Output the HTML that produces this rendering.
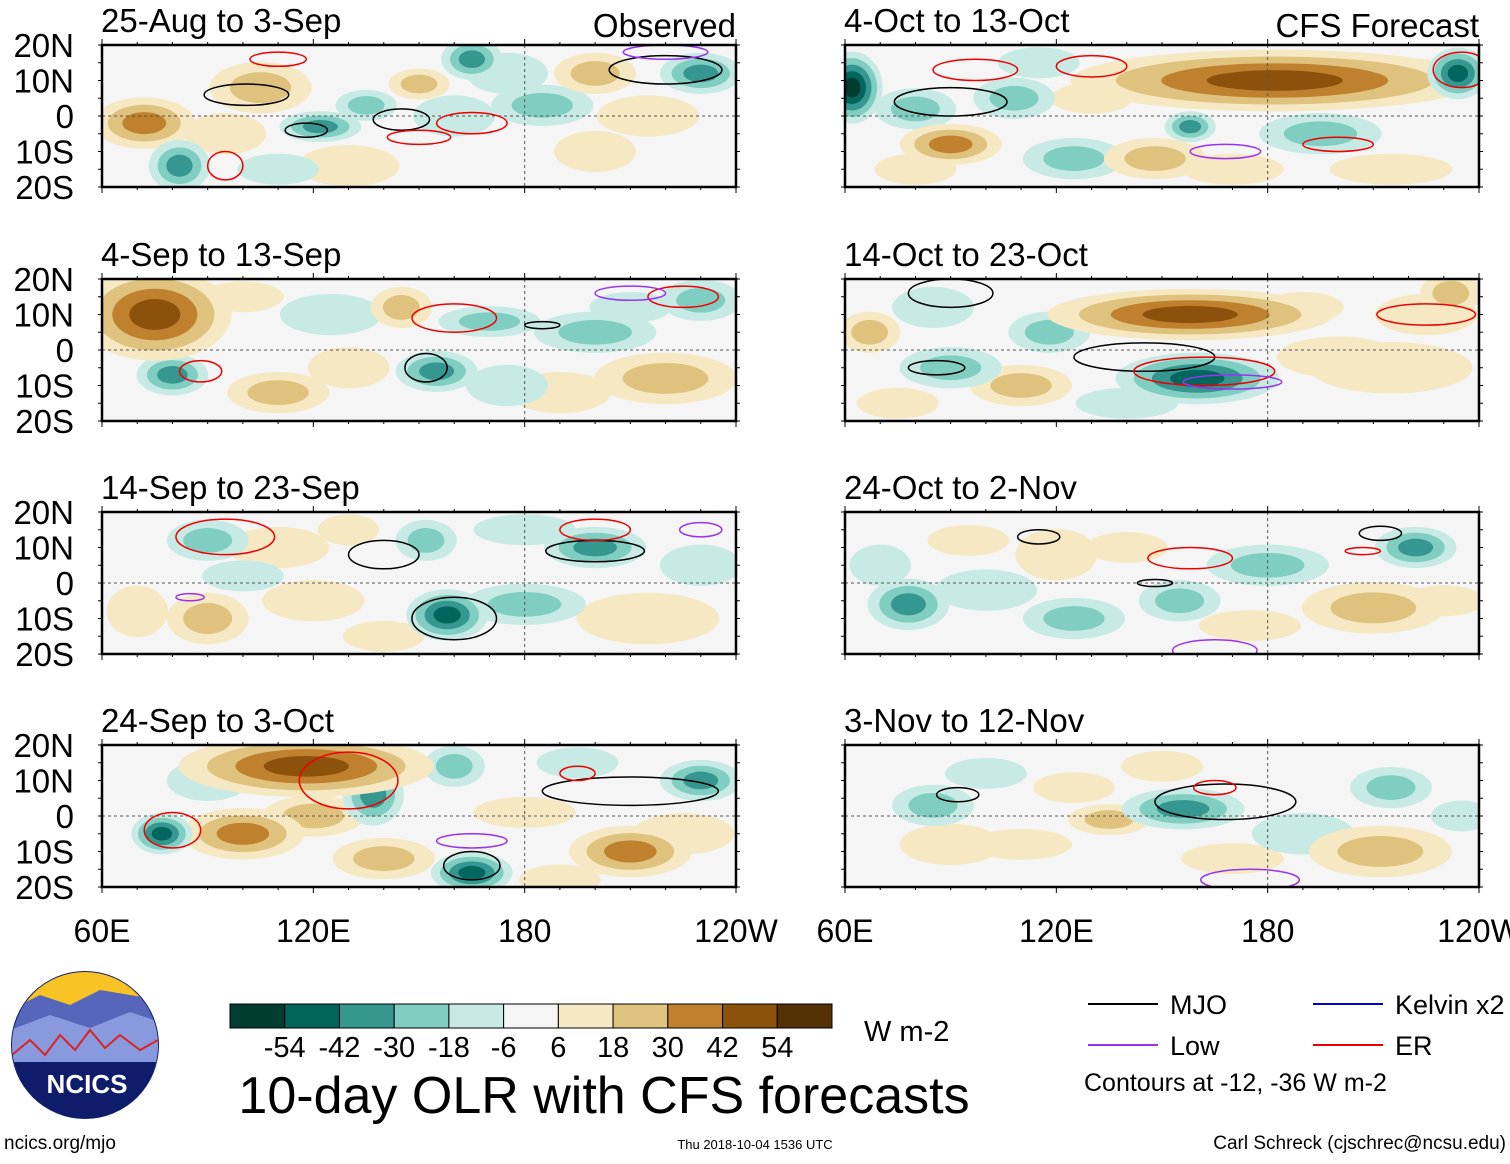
<!DOCTYPE html>
<html><head><meta charset="utf-8">
<style>
html,body{margin:0;padding:0;background:#fff;}
body{width:1510px;height:1159px;overflow:hidden;font-family:"Liberation Sans",sans-serif;}
svg text{font-family:"Liberation Sans",sans-serif;}
</style></head>
<body>
<svg id="chart" width="1510" height="1159" viewBox="0 0 1510 1159" xmlns="http://www.w3.org/2000/svg"></svg>
<script>
// ---- data ----
const panelTitles = ["25-Aug to 3-Sep","4-Sep to 13-Sep","14-Sep to 23-Sep","24-Sep to 3-Oct","4-Oct to 13-Oct","14-Oct to 23-Oct","24-Oct to 2-Nov","3-Nov to 12-Nov"];
const latTicks = ["20N","10N","0","10S","20S"];
const latValues = [20,10,0,-10,-20];
const lonTicks = ["60E","120E","180","120W"];
const lonValues = [60,120,180,240];
const binEdges = [-54,-42,-30,-18,-6,6,18,30,42,54];
const binLabels = ["-54","-42","-30","-18","-6","6","18","30","42","54"];
const binColors = ["#003c30","#01665e","#35978f","#80cdc1","#c7eae5","#f5f5f5","#f6e8c3","#dfc27d","#bf812d","#8c510a","#543005"];
// anomaly blobs per panel: [lon, lat, lonRadius, latRadius, value]
const blobs0 = [[72,-2,10,5,30],[122,-3,8,3,-30],[135,3,6,3,-20],[150,9,6,3,20],[165,16,6,4,-30],[200,12,8,4,20],[230,12,8,4,-30],[82,-14,6,5,-30],[105,8,10,5,18],[200,-10,8,4,15],[185,3,10,4,-18],[95,-5,8,4,10],[160,0,8,4,-10],[215,0,10,4,10],[130,-14,10,4,10],[175,12,8,4,-10],[110,-15,8,3,-10]];
const blobs1 = [[75,10,15,9,42],[80,-7,7,4,-30],[170,8,10,3,-20],[155,-6,8,4,-30],[145,12,6,4,18],[220,-8,14,5,18],[230,14,8,4,-20],[110,-12,10,4,18],[200,5,12,4,-18],[125,10,10,4,-10],[100,15,8,3,10],[190,-12,10,4,10],[130,-5,8,4,10],[175,-10,8,4,-10],[210,12,8,3,-10]];
const blobs2 = [[90,12,8,4,-20],[158,-9,8,5,-42],[200,10,10,4,-30],[90,-10,8,5,20],[180,-6,12,4,-18],[130,15,6,3,15],[152,12,6,4,-20],[215,-10,14,5,15],[70,-8,6,5,15],[110,10,10,4,10],[120,-5,10,4,10],[230,5,8,4,-10],[140,-15,8,3,10],[180,15,10,3,-12],[100,2,8,3,-10]];
const blobs3 = [[118,14,25,6,42],[100,-5,12,5,30],[77,-5,6,4,-42],[137,6,6,6,-30],[165,-16,8,4,-42],[210,-10,12,5,30],[230,10,8,4,-30],[180,1,10,3,15],[160,14,6,4,-20],[140,-12,10,4,20],[120,0,10,4,20],[90,10,8,4,-12],[195,15,8,3,-12],[225,-5,10,4,10],[190,-18,8,3,10]];
const blobs4 = [[62,8,6,7,-54],[182,10,40,6,42],[90,-8,10,4,30],[158,-3,5,3,-30],[148,-12,10,4,20],[234,12,6,5,-42],[80,2,8,4,-20],[125,-12,10,4,-18],[195,-5,12,4,-18],[108,5,8,4,-18],[80,-15,8,3,10],[115,15,8,3,-10],[170,-15,10,3,10],[215,-15,12,3,10],[130,5,8,3,10]];
const blobs5 = [[158,10,28,5,42],[67,5,6,4,20],[160,-8,16,5,-42],[90,-5,10,4,-20],[215,-5,16,5,15],[232,16,6,4,18],[118,5,8,4,-18],[110,-10,10,4,18],[200,-2,12,4,15],[85,12,8,4,-10],[140,-15,10,3,-12],[225,10,10,4,10],[75,-15,8,3,10],[190,12,8,3,10]];
const blobs6 = [[78,-6,8,5,-30],[222,10,8,4,-30],[155,-5,8,4,-18],[120,8,8,5,15],[210,-7,14,5,20],[125,-10,10,4,-18],[100,-2,10,4,-12],[180,5,12,4,-18],[140,10,8,3,10],[175,-12,10,3,10],[230,-5,8,3,10],[95,12,8,3,10],[70,5,6,4,-10]];
const blobs7 = [[85,3,8,4,-20],[156,2,12,4,-30],[135,-1,8,3,18],[212,-10,14,5,25],[215,8,8,4,-18],[110,-8,10,3,15],[90,-8,10,4,15],[190,-5,10,4,-12],[125,8,8,3,10],[170,-12,10,3,10],[235,0,6,3,-10],[100,12,8,3,-10],[150,14,8,3,10]];
const panelBlobs = [blobs0,blobs1,blobs2,blobs3,blobs4,blobs5,blobs6,blobs7];
// contours per panel: [lon, lat, lonRadius, latRadius, type]  (0=MJO,1=Low,2=ER,3=Kelvin)
const contours0 = [[101,6,12,3,0],[118,-4,6,2,0],[145,-1,8,3,0],[165,-2,10,3,2],[150,-6,9,2,2],[110,16,8,2,2],[220,13,16,4,0],[220,18,12,2,1],[95,-14,5,4,2]];
const contours1 = [[152,-5,6,4,0],[160,9,12,4,2],[88,-6,6,3,2],[225,15,10,3,2],[185,7,5,1,0],[210,16,10,2,1]];
const contours2 = [[160,-10,12,6,0],[200,9,14,3,0],[95,13,14,5,2],[140,8,10,4,0],[200,15,10,3,2],[230,15,6,2,1],[85,-4,4,1,1]];
const contours3 = [[165,-14,8,4,0],[210,7,25,4,0],[80,-4,8,5,2],[130,10,14,8,2],[195,12,5,2,2],[165,-7,10,2,1]];
const contours4 = [[90,4,16,4,0],[130,14,10,3,2],[97,13,12,3,2],[200,-8,10,2,2],[168,-10,10,2,1],[235,13,8,5,2]];
const contours5 = [[145,-2,20,4,0],[90,16,12,4,0],[162,-6,20,4,2],[225,10,14,3,2],[170,-9,14,2,1],[86,-5,8,2,0]];
const contours6 = [[158,7,12,3,2],[207,9,5,1,2],[212,14,6,2,0],[115,13,6,2,0],[165,-19,12,3,1],[148,0,5,1,0]];
const contours7 = [[168,4,20,5,0],[165,8,6,2,2],[92,6,6,2,0],[175,-18,14,3,1]];
const panelContours = [contours0,contours1,contours2,contours3,contours4,contours5,contours6,contours7];
const contourColors = ["#000000","#9933ee","#ee0000","#0000dd"];

// ---- layout ----
const NS="http://www.w3.org/2000/svg";
const svg=document.getElementById('chart');
function el(tag,attrs,parent){const e=document.createElementNS(NS,tag);for(const k in attrs)e.setAttribute(k,attrs[k]);(parent||svg).appendChild(e);return e;}
const colX=[102,845], rowY=[45,279,512,745], PW=634, PH=142;
const BLOB_SCALE=1.45;
function xScale(px,lon){return px+(lon-60)/180*PW;}
function yScale(py,lat){return py+(20-lat)/40*PH;}
function rxScale(d){return d/180*PW;}
function ryScale(d){return d/40*PH;}
function colorFor(v){let i=0;while(i<binEdges.length&&v>binEdges[i])i++;return binColors[i];}

for(let p=0;p<8;p++){
  const px=colX[Math.floor(p/4)], py=rowY[p%4];
  const g=el('g',{});
  
  
  const clipId='clip'+p;
  const cp=el('clipPath',{id:clipId},g); el('rect',{x:px,y:py,width:PW,height:PH},cp);
  const bg=el('rect',{x:px,y:py,width:PW,height:PH,fill:'#f5f5f5'},g);
  
  
  const inner=el('g',{'clip-path':'url(#'+clipId+')'},g);
  const sorted=panelBlobs[p].slice().sort((a,b)=>Math.abs(a[4])-Math.abs(b[4]));
  sorted.forEach(b=>{
    const [lon,lat,rl,rt,v]=b;
    const thresholds = v>0 ? binEdges.filter(t=>t>0&&t<=v) : binEdges.filter(t=>t<0&&t>=v).reverse();
    if(thresholds.length===0) thresholds.push(v>0?6:-6);
    const n=thresholds.length;
    thresholds.forEach((t,i)=>{
      const f=1-i/(n+0.5);
      const e=el('ellipse',{cx:xScale(px,lon),cy:yScale(py,lat),rx:rxScale(rl)*f*BLOB_SCALE,ry:ryScale(rt)*f*BLOB_SCALE,fill:colorFor(v>0?t+1:t-1)},inner);
      
      
    });
  });
  el('line',{x1:px,y1:yScale(py,0),x2:px+PW,y2:yScale(py,0),stroke:'#555','stroke-dasharray':'3,3','stroke-width':1},inner);
  el('line',{x1:xScale(px,180),y1:py,x2:xScale(px,180),y2:py+PH,stroke:'#555','stroke-dasharray':'3,3','stroke-width':1},inner);
  panelContours[p].forEach(c=>{
    const e=el('ellipse',{cx:xScale(px,c[0]),cy:yScale(py,c[1]),rx:rxScale(c[2]),ry:ryScale(c[3]),fill:'none',stroke:contourColors[c[4]],'stroke-width':1.5},inner);
    
    
  });
  el('rect',{x:px,y:py,width:PW,height:PH,fill:'none',stroke:'#000','stroke-width':2.5},g);
  for(let lon=60;lon<=240;lon+=10){const x=xScale(px,lon);const L=(lon%60===0)?6:3;
    el('line',{x1:x,y1:py,x2:x,y2:py-L,stroke:'#000','stroke-width':1},g);
    el('line',{x1:x,y1:py+PH,x2:x,y2:py+PH+L,stroke:'#000','stroke-width':1},g);}
  for(let lat=-20;lat<=20;lat+=5){const y=yScale(py,lat);
    el('line',{x1:px,y1:y,x2:px-4,y2:y,stroke:'#000'},g);el('line',{x1:px+PW,y1:y,x2:px+PW+4,y2:y,stroke:'#000'},g);}
  const t=el('text',{x:px-1,y:py-13,'font-size':33,fill:'#000'},g); t.textContent=panelTitles[p];
  
  
  if(p<4){
    latValues.forEach((lat,i)=>{const tt=el('text',{x:74,y:yScale(py,lat)+12,'font-size':33,'text-anchor':'end'});tt.textContent=latTicks[i];
      
      });
  }
}
let ob=el('text',{x:736,y:37,'font-size':33,'text-anchor':'end'});ob.textContent='Observed';


let cf=el('text',{x:1479,y:37,'font-size':33,'text-anchor':'end'});cf.textContent='CFS Forecast';


colX.forEach(px=>lonValues.forEach((lon,i)=>{const tt=el('text',{x:xScale(px,lon),y:942,'font-size':32,'text-anchor':'middle'});tt.textContent=lonTicks[i];
  
  }));

const cbX=230,cbY=1004,cbW=602/11,cbH=24;
binColors.forEach((c,i)=>{const r=el('rect',{x:cbX+i*cbW,y:cbY,width:cbW,height:cbH,fill:c,stroke:'#000','stroke-width':1});
  
  });
binLabels.forEach((l,i)=>{const tt=el('text',{x:cbX+(i+1)*cbW,y:1057,'font-size':29,'text-anchor':'middle'});tt.textContent=l;
  
  });
let un=el('text',{x:864,y:1041,'font-size':29});un.textContent='W m-2';


let mt=el('text',{x:604,y:1113,'font-size':52,'text-anchor':'middle'});mt.textContent='10-day OLR with CFS forecasts';



const legendItems=[["MJO",1088,1004,0],["Kelvin x2",1313,1004,3],["Low",1088,1045,1],["ER",1313,1045,2]];
legendItems.forEach(it=>{const g=el('g',{});
  
  
  el('line',{x1:it[1],y1:it[2],x2:it[1]+70,y2:it[2],stroke:contourColors[it[3]],'stroke-width':2},g);
  const tt=el('text',{x:it[1]+82,y:it[2]+10,'font-size':27},g);tt.textContent=it[0];});
let cn=el('text',{x:1084,y:1091,'font-size':25});cn.textContent='Contours at -12, -36 W m-2';



const lg=el('g',{});


el('clipPath',{id:'lc'},lg).appendChild(el('circle',{cx:85,cy:1045,r:73}));
el('circle',{cx:85,cy:1045,r:74,fill:'#0f1c6b'},lg);
const li=el('g',{'clip-path':'url(#lc)'},lg);
el('rect',{x:10,y:970,width:150,height:40,fill:'#f7c325'},li);
el('path',{d:'M10 1010 L40 995 L70 1005 L100 990 L160 1000 L160 1060 L10 1060Z',fill:'#5566bb'},li);
el('path',{d:'M10 1030 L50 1015 L90 1028 L130 1012 L160 1022 L160 1070 L10 1070Z',fill:'#8899dd'},li);
el('polyline',{points:'12,1055 30,1040 45,1055 60,1035 75,1050 90,1030 105,1048 120,1035 140,1050 158,1040',fill:'none',stroke:'#d22','stroke-width':2},li);
el('rect',{x:10,y:1062,width:150,height:60,fill:'#0f1c6b'},li);
let nt=el('text',{x:87,y:1093,'font-size':26,'font-weight':'bold',fill:'#fff','text-anchor':'middle'},lg);nt.textContent='NCICS';

let f1=el('text',{x:4,y:1149,'font-size':19});f1.textContent='ncics.org/mjo';


let f2=el('text',{x:755,y:1149,'font-size':13,'text-anchor':'middle'});f2.textContent='Thu 2018-10-04 1536 UTC';


let f3=el('text',{x:1506,y:1149,'font-size':19,'text-anchor':'end'});f3.textContent='Carl Schreck (cjschrec@ncsu.edu)';


</script>
</body></html>
